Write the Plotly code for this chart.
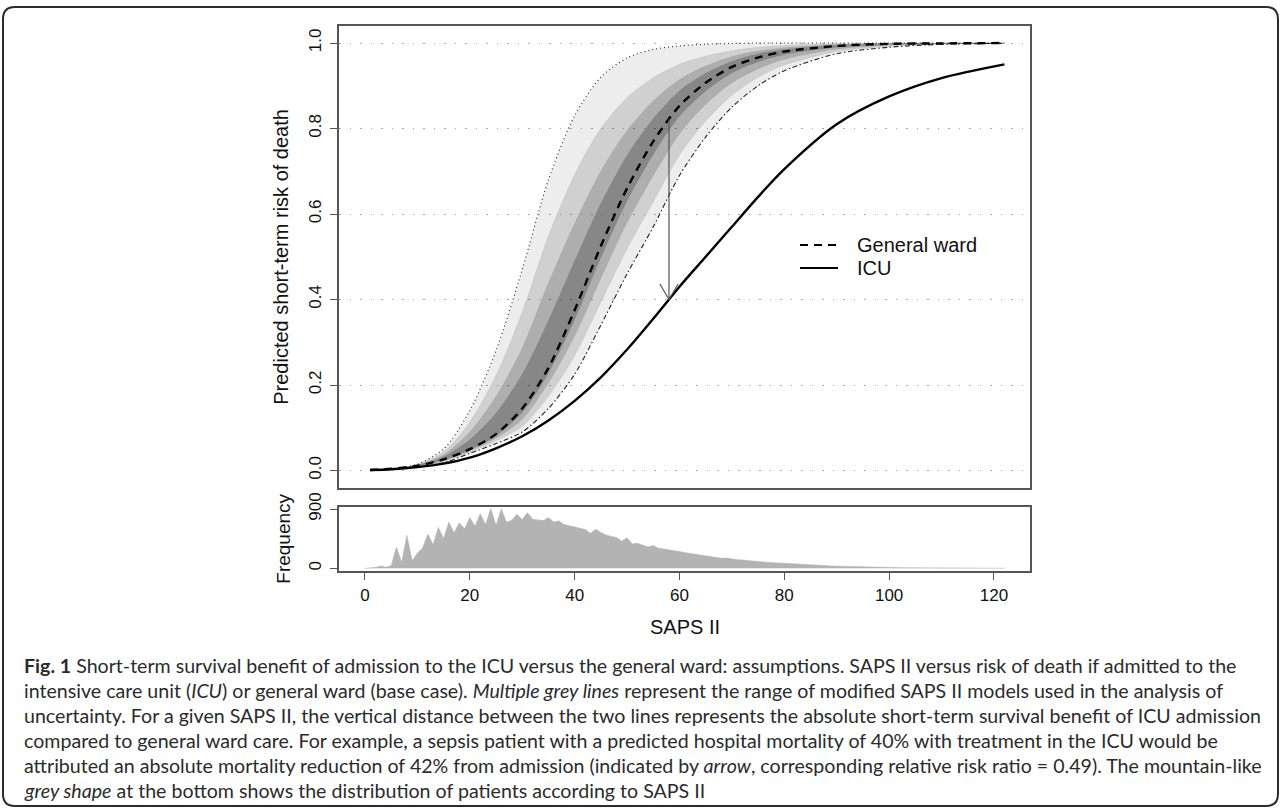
import plotly.graph_objects as go

W, H = 1281, 810

# ---------------- data ----------------
saps_grid = [1, 5, 10, 15, 20, 25, 30, 35, 40, 45, 50, 55, 60, 65, 70, 75, 80, 90, 100, 110, 122]

risk_general_ward = [0.001, 0.004, 0.011, 0.026, 0.05, 0.085, 0.145, 0.24, 0.375, 0.525, 0.66,
                     0.77, 0.853, 0.907, 0.944, 0.966, 0.98, 0.993, 0.998, 0.999, 1.0]
risk_icu = [0.001, 0.003, 0.008, 0.016, 0.03, 0.052, 0.08, 0.117, 0.163, 0.218, 0.283,
            0.355, 0.43, 0.5, 0.57, 0.64, 0.705, 0.81, 0.875, 0.918, 0.95]
# envelope of the modified SAPS II models (dotted = highest risk, dash-dot = lowest)
risk_models_max = [0.001, 0.004, 0.015, 0.05, 0.14, 0.28, 0.47, 0.68, 0.83, 0.92, 0.965,
                   0.985, 0.993, 0.997, 0.999, 1.0, 1.0, 1.0, 1.0, 1.0, 1.0]
risk_models_min = [0.001, 0.003, 0.008, 0.018, 0.04, 0.063, 0.09, 0.145, 0.225, 0.34, 0.46,
                   0.57, 0.69, 0.78, 0.85, 0.9, 0.935, 0.975, 0.99, 0.997, 0.999]
# inner density bands of the grey model lines
band_a_upper = [0.001, 0.004, 0.014, 0.043, 0.113, 0.222, 0.37, 0.548, 0.692, 0.80, 0.872,
                0.919, 0.95, 0.969, 0.982, 0.99, 0.994, 0.998, 0.999, 0.9995, 1.0]
band_a_lower = [0.001, 0.0033, 0.0089, 0.0204, 0.043, 0.0696, 0.1035, 0.1735, 0.2685, 0.394, 0.5185,
                0.6285, 0.738, 0.8175, 0.878, 0.92, 0.9485, 0.9804, 0.9924, 0.9976, 0.9993]
band_b_upper = [0.001, 0.004, 0.013, 0.037, 0.09, 0.173, 0.286, 0.438, 0.577, 0.70, 0.795,
                0.864, 0.914, 0.946, 0.968, 0.981, 0.989, 0.996, 0.999, 0.9994, 1.0]
band_b_lower = [0.001, 0.0036, 0.0098, 0.0228, 0.046, 0.076, 0.12, 0.205, 0.315, 0.45, 0.58,
                0.69, 0.788, 0.857, 0.907, 0.94, 0.962, 0.986, 0.995, 0.998, 0.9996]
band_c_upper = [0.001, 0.004, 0.012, 0.032, 0.072, 0.134, 0.225, 0.35, 0.49, 0.624, 0.737,
                0.823, 0.888, 0.929, 0.957, 0.975, 0.985, 0.995, 0.9985, 0.9992, 1.0]
band_c_lower = [0.001, 0.004, 0.011, 0.025, 0.0485, 0.082, 0.136, 0.228, 0.353, 0.498, 0.631,
                0.74, 0.829, 0.888, 0.93, 0.956, 0.973, 0.99, 0.997, 0.9987, 0.9998]

# arrow: ICU benefit at SAPS II = 58
arrow_saps = 58
arrow_from_risk = 0.825
arrow_to_risk = 0.40

# distribution of patients by SAPS II (0..122)
freq_counts = [0, 5, 12, 35, 15, 40, 320, 90, 500, 110, 230, 310, 520, 360, 620, 450, 700, 540,
               690, 600, 770, 640, 830, 660, 910, 650, 900, 700, 730, 820, 740, 845, 745, 735,
               725, 770, 705, 720, 665, 645, 630, 615, 590, 530, 595, 545, 505, 485, 470, 410,
               465, 370, 380, 350, 325, 345, 305, 295, 280, 262, 248, 235, 228, 212, 202, 192,
               182, 168, 152, 156, 142, 132, 126, 116, 110, 102, 96, 90, 85, 80, 72, 68, 62, 58,
               55, 50, 46, 42, 38, 35, 32, 30, 27, 25, 22, 20, 18, 16, 15, 13, 12, 11, 10, 9, 8,
               7, 7, 6, 6, 5, 5, 4, 4, 4, 3, 3, 3, 2, 2, 2, 2, 1, 1]
freq_saps = list(range(len(freq_counts)))

x_ticks = [0, 20, 40, 60, 80, 100, 120]
y_ticks = [0.0, 0.2, 0.4, 0.6, 0.8, 1.0]
y_tick_text = ["0.0", "0.2", "0.4", "0.6", "0.8", "1.0"]
freq_ticks = [0, 900]

legend_labels = ["General ward", "ICU"]
x_title = "SAPS II"
y_title = "Predicted short-term risk of death"
freq_title = "Frequency"

caption_lines = [
    "<b>Fig. 1</b> Short-term survival benefit of admission to the ICU versus the general ward: assumptions. SAPS II versus risk of death if admitted to the",
    "intensive care unit (<i>ICU</i>) or general ward (base case). <i>Multiple grey lines</i> represent the range of modified SAPS II models used in the analysis of",
    "uncertainty. For a given SAPS II, the vertical distance between the two lines represents the absolute short-term survival benefit of ICU admission",
    "compared to general ward care. For example, a sepsis patient with a predicted hospital mortality of 40% with treatment in the ICU would be",
    "attributed an absolute mortality reduction of 42% from admission (indicated by <i>arrow</i>, corresponding relative risk ratio = 0.49). The mountain-like",
    "<i>grey shape</i> at the bottom shows the distribution of patients according to SAPS II",
]

# ---------------- layout helpers (pixel -> paper) ----------------
def px(x):
    return x / W


def py(y):
    return 1 - y / H


PLOT_L, PLOT_R = 339.4, 1030.0
MAIN_T, MAIN_B = 25.9, 487.6
FREQ_T, FREQ_B = 506.7, 570.7
FONT = "Liberation Sans, Arial, sans-serif"
FRAME = "#555555"

fig = go.Figure()

spline = dict(shape="spline", smoothing=0.8)


def band(upper, lower, color):
    fig.add_trace(go.Scatter(x=saps_grid, y=upper, mode="lines",
                             line=dict(width=0, **spline), hoverinfo="skip", showlegend=False))
    fig.add_trace(go.Scatter(x=saps_grid, y=lower, mode="lines", fill="tonexty",
                             fillcolor=color, line=dict(width=0, **spline),
                             hoverinfo="skip", showlegend=False))


band(risk_models_max, risk_models_min, "rgba(0,0,0,0.07)")
band(band_a_upper, band_a_lower, "rgba(0,0,0,0.12)")
band(band_b_upper, band_b_lower, "rgba(0,0,0,0.16)")
band(band_c_upper, band_c_lower, "rgba(0,0,0,0.22)")

# faint texture lines inside the band
for edge in [band_a_upper, band_b_upper, band_c_upper, band_c_lower, band_b_lower, band_a_lower]:
    fig.add_trace(go.Scatter(x=saps_grid, y=edge, mode="lines",
                             line=dict(width=0.7, color="rgba(0,0,0,0.10)", **spline),
                             hoverinfo="skip", showlegend=False))

fig.add_trace(go.Scatter(x=saps_grid, y=risk_models_max, mode="lines",
                         line=dict(width=1.1, color="#222222", dash="1px,3px", **spline),
                         showlegend=False))
fig.add_trace(go.Scatter(x=saps_grid, y=risk_models_min, mode="lines",
                         line=dict(width=1.1, color="#222222", dash="5px,2.5px,1.5px,2.5px", **spline),
                         showlegend=False))
fig.add_trace(go.Scatter(x=saps_grid, y=risk_general_ward, mode="lines", name=legend_labels[0],
                         line=dict(width=2.4, color="black", dash="8px,6px", **spline),
                         showlegend=False))
fig.add_trace(go.Scatter(x=saps_grid, y=risk_icu, mode="lines", name=legend_labels[1],
                         line=dict(width=2.4, color="black", **spline), showlegend=False))

# frequency polygon
fig.add_trace(go.Scatter(x=freq_saps, y=freq_counts, mode="lines", fill="tozeroy",
                         fillcolor="#b3b3b3", line=dict(width=0.6, color="#b3b3b3"),
                         xaxis="x2", yaxis="y2", showlegend=False))

axis_common = dict(showline=True, mirror=True, linecolor=FRAME, linewidth=1.5,
                   zeroline=False, tickfont=dict(family=FONT, size=17, color="#111"),
                   tickcolor=FRAME, ticklen=8, tickwidth=1.2, automargin=False)

fig.update_layout(
    width=W, height=H, margin=dict(l=0, r=0, t=0, b=0, pad=0),
    paper_bgcolor="white", plot_bgcolor="white",
    xaxis=dict(domain=[px(PLOT_L), px(PLOT_R)], range=[-4.88, 126.88], anchor="y",
               showticklabels=False, ticks="", showgrid=False, **axis_common),
    yaxis=dict(domain=[py(MAIN_B), py(MAIN_T)], range=[-0.04, 1.04], anchor="x",
               tickvals=y_ticks, ticktext=y_tick_text, ticks="outside", tickangle=-90,
               showgrid=True, gridcolor="#a8a8a8", gridwidth=1.3, griddash="1.5px,9px",
               ticklabelstandoff=2, **axis_common),
    xaxis2=dict(domain=[px(PLOT_L), px(PLOT_R)], range=[-4.88, 126.88], anchor="y2",
                tickvals=x_ticks, ticks="outside", showgrid=False, **axis_common),
    yaxis2=dict(domain=[py(FREQ_B), py(FREQ_T)], range=[-36, 936], anchor="x2",
                tickvals=freq_ticks, ticks="outside", tickangle=-90, showgrid=False,
                ticklabelstandoff=2, **axis_common),
)

annotations = []
# arrow shaft and open head
annotations.append(dict(x=arrow_saps, y=arrow_to_risk, ax=arrow_saps, ay=arrow_from_risk,
                        xref="x", yref="y", axref="x", ayref="y", text="", showarrow=True,
                        arrowhead=0, arrowwidth=1.2, arrowcolor="#555555"))
for dx in (-10, 10):
    annotations.append(dict(x=arrow_saps, y=arrow_to_risk, ax=dx, ay=-17, xref="x", yref="y",
                            text="", showarrow=True, arrowhead=0, arrowwidth=1.2,
                            arrowcolor="#555555"))

title_font = dict(family=FONT, size=20, color="#111")
# axis titles
annotations.append(dict(x=px(281), y=py((MAIN_T + MAIN_B) / 2), xref="paper", yref="paper",
                        text=y_title, textangle=-90, showarrow=False, xanchor="center",
                        yanchor="middle", font=title_font))
annotations.append(dict(x=px(284), y=py((FREQ_T + FREQ_B) / 2), xref="paper", yref="paper",
                        text=freq_title, textangle=-90, showarrow=False, xanchor="center",
                        yanchor="middle", font=dict(family=FONT, size=19, color="#111")))
annotations.append(dict(x=px((PLOT_L + PLOT_R) / 2), y=py(627), xref="paper", yref="paper",
                        text=x_title, showarrow=False, xanchor="center", yanchor="middle",
                        font=title_font))

# legend (manual, no box)
legend_y = [245, 268]
for label, yy in zip(legend_labels, legend_y):
    annotations.append(dict(x=px(855), y=py(yy), xref="paper", yref="paper", text=label,
                            xanchor="left", yanchor="middle", showarrow=False, font=title_font))

# caption
for i, line in enumerate(caption_lines):
    annotations.append(dict(x=px(22), y=py(665 + 25 * i), xref="paper", yref="paper",
                            text=line, xanchor="left", yanchor="middle", showarrow=False,
                            font=dict(family="Lato, Open Sans, sans-serif", size=19.6,
                                      color="#2b2b2b")))

fig.update_layout(annotations=annotations)

shapes = [
    dict(type="line", xref="paper", yref="paper", x0=px(800), x1=px(838),
         y0=py(legend_y[0]), y1=py(legend_y[0]), line=dict(color="black", width=2.2, dash="8px,6px")),
    dict(type="line", xref="paper", yref="paper", x0=px(800), x1=px(838),
         y0=py(legend_y[1]), y1=py(legend_y[1]), line=dict(color="black", width=2.2)),
]
# rounded outer frame
x0, x1, y0, y1, r = 3, 1278, 7, 806, 12
path = (f"M {px(x0 + r)},{py(y0)} L {px(x1 - r)},{py(y0)} Q {px(x1)},{py(y0)} {px(x1)},{py(y0 + r)} "
        f"L {px(x1)},{py(y1 - r)} Q {px(x1)},{py(y1)} {px(x1 - r)},{py(y1)} "
        f"L {px(x0 + r)},{py(y1)} Q {px(x0)},{py(y1)} {px(x0)},{py(y1 - r)} "
        f"L {px(x0)},{py(y0 + r)} Q {px(x0)},{py(y0)} {px(x0 + r)},{py(y0)} Z")
shapes.append(dict(type="path", xref="paper", yref="paper", path=path,
                   line=dict(color="#2b2b2b", width=2)))
fig.update_layout(shapes=shapes)

fig.write_html("out.html", config={"displayModeBar": False},
               post_script="document.body.style.margin='0px';document.body.style.overflow='hidden';")
